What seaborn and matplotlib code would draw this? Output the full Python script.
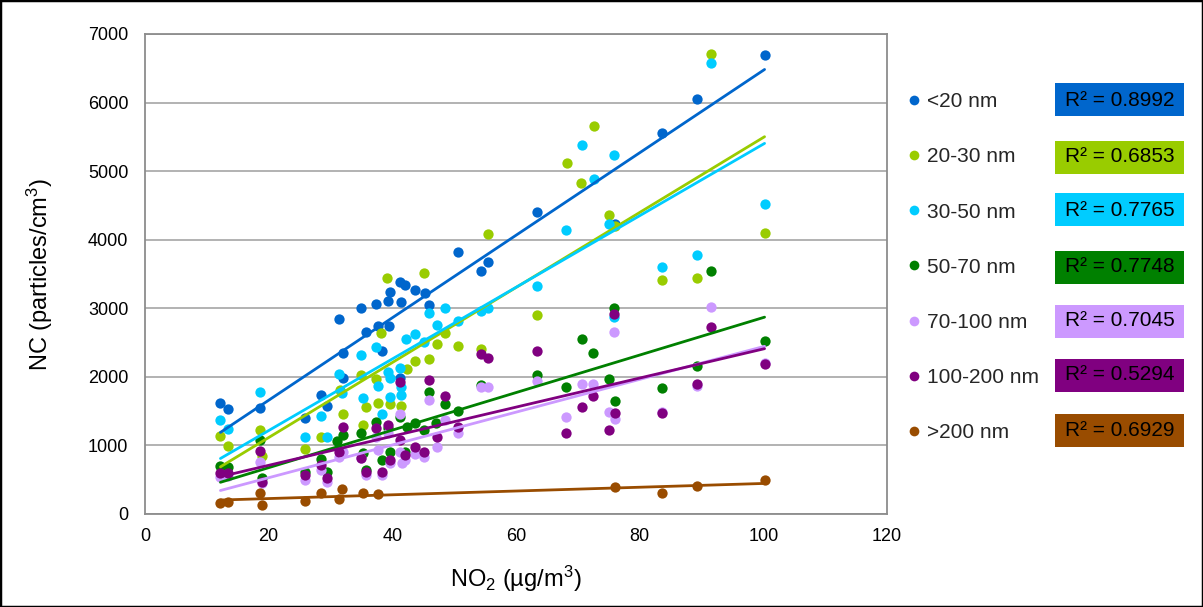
import matplotlib
matplotlib.use("Agg")
import matplotlib.pyplot as plt
import seaborn as sns
from matplotlib.lines import Line2D
from matplotlib.patches import Rectangle

sns.set_theme(style="white")
plt.rcParams["font.family"] = ["Liberation Sans", "DejaVu Sans"]
plt.rcParams["mathtext.fontset"] = "custom"
plt.rcParams["mathtext.rm"] = "Liberation Sans"
plt.rcParams["mathtext.it"] = "Liberation Sans"
plt.rcParams["mathtext.sf"] = "Liberation Sans"

series_names = ["<20 nm", "20-30 nm", "30-50 nm", "50-70 nm", "70-100 nm", "100-200 nm", ">200 nm"]
colors = ["#0066CC", "#99CC00", "#00CCFF", "#008000", "#CC99FF", "#800080", "#994C00"]
r2_labels = ["R² = 0.8992", "R² = 0.6853", "R² = 0.7765", "R² = 0.7748", "R² = 0.7045", "R² = 0.5294", "R² = 0.6929"]

x_lt20 = [12.2, 13.5, 18.6, 25.9, 28.5, 29.4, 31.4, 32.0, 32.1, 35.0, 35.7, 37.4, 37.7, 38.4, 39.3, 39.5,
          39.6, 41.2, 41.2, 41.4, 42.0, 43.7, 45.3, 46.0, 50.7, 54.3, 55.4, 63.4, 76.0, 83.6, 89.2, 100.2]
y_lt20 = [1614, 1531, 1541, 1395, 1735, 1575, 2844, 2343, 1978, 3000, 2650, 3063, 2742, 2381, 3100, 2742,
          3242, 3379, 1978, 3085, 3340, 3267, 3227, 3048, 3826, 3544, 3680, 4400, 4229, 5561, 6048, 6699]

x_20_30 = [12.2, 13.5, 18.6, 18.9, 25.9, 28.5, 31.5, 32.0, 35.0, 35.2, 35.7, 37.4, 37.7, 38.1, 39.2, 39.6,
           41.4, 42.3, 43.7, 45.2, 46.0, 47.2, 48.5, 50.7, 54.3, 55.4, 63.4, 68.2, 70.5, 72.6, 75.1, 76.0,
           83.6, 89.2, 91.5, 100.2]
y_20_30 = [1137, 996, 1225, 846, 943, 1128, 1808, 1454, 2027, 1298, 1565, 1964, 1624, 2635, 3437, 1600,
           1575, 2114, 2231, 3510, 2256, 2475, 2635, 2450, 2401, 4079, 2902, 5120, 4827, 5658, 4360, 4200,
           3413, 3447, 6708, 4103]

x_30_50 = [12.2, 13.5, 18.6, 25.9, 28.5, 29.4, 31.4, 31.8, 35.0, 35.2, 37.4, 37.7, 38.3, 39.3, 39.6, 39.6,
           41.2, 41.4, 41.4, 42.2, 43.7, 45.2, 46.0, 47.2, 48.5, 50.7, 54.3, 55.4, 63.4, 68.1, 70.7,
           72.6, 75.1, 75.9, 75.9, 83.6, 89.2, 91.5, 100.2]
y_30_50 = [1371, 1240, 1774, 1128, 1434, 1128, 2037, 1760, 2319, 1687, 2440, 1867, 1463, 2075, 1978, 1711,
           2124, 1857, 1735, 2545, 2618, 2513, 2926, 2756, 3009, 2815, 2960, 3000, 3325, 4142, 5381,
           4880, 4229, 5235, 2880, 3606, 3777, 6573, 4521]

x_50_70 = [12.2, 13.5, 18.6, 18.9, 25.9, 28.5, 29.5, 31.1, 32.0, 35.0, 35.2, 35.7, 37.4, 38.3, 39.3, 39.6,
           41.2, 42.0, 42.3, 43.7, 45.2, 46.0, 47.0, 48.5, 50.7, 54.3, 63.4, 68.1, 70.6, 72.5, 75.1, 75.9,
           76.0, 83.6, 89.2, 91.5, 100.2]
y_50_70 = [705, 690, 1079, 525, 617, 798, 617, 1069, 1152, 1176, 885, 640, 1346, 788, 1250, 909,
           1419, 900, 1264, 1322, 1225, 1784, 1322, 1604, 1502, 1881, 2027, 1857, 2547, 2353, 1969, 3009,
           1653, 1833, 2158, 3549, 2528]

x_70_100 = [12.2, 13.5, 18.6, 18.9, 25.9, 28.5, 29.5, 31.4, 32.0, 35.0, 35.7, 37.4, 37.7, 38.3, 39.3, 39.6,
            41.2, 41.2, 41.5, 42.0, 43.7, 45.2, 46.0, 47.2, 48.5, 50.7, 54.3, 55.4, 63.4, 68.1, 70.6, 72.5,
            75.1, 75.9, 76.0, 83.6, 89.2, 91.5, 100.2]
y_70_100 = [540, 560, 760, 450, 496, 642, 462, 830, 900, 820, 570, 1120, 933, 570, 1180, 740,
            1454, 909, 739, 790, 880, 830, 1662, 972, 1371, 1186, 1850, 1857, 1940, 1410, 1896, 1896,
            1483, 2660, 1386, 1490, 1860, 3024, 2200]

x_100_200 = [12.2, 13.5, 18.6, 18.9, 25.9, 28.5, 29.5, 31.4, 32.0, 35.0, 35.7, 37.4, 38.3, 39.3, 39.6, 41.2,
             41.2, 42.0, 43.7, 45.2, 46.0, 47.2, 48.5, 50.7, 54.3, 55.4, 63.4, 68.1, 70.6, 72.5, 75.1, 75.9,
             76.0, 83.6, 89.2, 91.5, 100.2]
y_100_200 = [594, 600, 923, 471, 569, 715, 520, 909, 1273, 812, 617, 1249, 617, 1298, 788, 1920,
             1079, 860, 982, 909, 1954, 1118, 1720, 1273, 2333, 2270, 2382, 1176, 1565, 1725, 1225, 2917,
             1478, 1468, 1896, 2732, 2183]

x_gt200 = [12.2, 13.5, 18.6, 18.9, 25.9, 28.5, 31.4, 31.9, 35.2, 37.7, 76.0, 83.6, 89.2, 100.2]
y_gt200 = [165, 180, 302, 131, 194, 311, 214, 360, 302, 287, 389, 302, 408, 496]

xs_all = [x_lt20, x_20_30, x_30_50, x_50_70, x_70_100, x_100_200, x_gt200]
ys_all = [y_lt20, y_20_30, y_30_50, y_50_70, y_70_100, y_100_200, y_gt200]

W, H = 1203, 607
fig = plt.figure(figsize=(W / 100, H / 100), dpi=100)
fig.patch.set_facecolor("white")
ax = fig.add_axes([145 / W, 1 - 514 / H, 742 / W, 480 / H])

for name, xs, ys, c in zip(series_names, xs_all, ys_all, colors):
    sns.regplot(x=xs, y=ys, ax=ax, ci=None, color=c, label=name,
                scatter_kws=dict(s=55, linewidths=0, alpha=1, zorder=3),
                line_kws=dict(lw=2.0, zorder=4))

ax.set_xlim(0, 120)
ax.set_ylim(0, 7000)
ax.set_xticks(range(0, 121, 20))
ax.set_yticks(range(0, 7001, 1000))
ax.yaxis.grid(True, color="#A6A6A6", lw=1.2)
ax.xaxis.grid(False)
ax.set_axisbelow(True)
for sp in ax.spines.values():
    sp.set_color("#8C8C8C")
    sp.set_linewidth(1.3)
ax.tick_params(axis="both", direction="out", length=4, width=1, color="#8C8C8C",
               labelsize=13, labelcolor="black")
ax.tick_params(axis="y", pad=8)
ax.tick_params(axis="x", pad=6)

ax.set_xlabel("NO$_2$ (µg/m$^3$)", fontsize=17, color="black")
ax.set_ylabel("NC (particles/cm$^3$)", fontsize=17, color="black")
ax.xaxis.label.set_va("center")
ax.yaxis.label.set_va("center")
ax.xaxis.set_label_coords(0.5, -0.135)
ax.yaxis.set_label_coords(-0.1415, 0.5)

handles = [Line2D([], [], marker="o", ls="", color=c, markersize=7, markeredgewidth=0) for c in colors]
fig.legend(handles, series_names, loc="upper left", bbox_to_anchor=(908 / W, 1 - 92 / H),
           bbox_transform=fig.transFigure, frameon=False, fontsize=15, handlelength=0.6,
           handletextpad=0.3, labelspacing=1.74, borderpad=0, borderaxespad=0)

row_y = [100, 157, 210, 267, 321, 375, 430]
for lab, c, yc in zip(r2_labels, colors, row_y):
    fig.patches.append(Rectangle(((1055) / W, 1 - (yc + 16.5) / H), 129 / W, 33 / H,
                                 transform=fig.transFigure, facecolor=c, edgecolor="none"))
    fig.text(1119.5 / W, 1 - yc / H, lab, ha="center", va="center", fontsize=15, color="black")

fig.patches.append(Rectangle((0, 0), 1, 1, transform=fig.transFigure, fill=False,
                             edgecolor="black", lw=2.5))

fig.savefig("out.png", dpi=100)
